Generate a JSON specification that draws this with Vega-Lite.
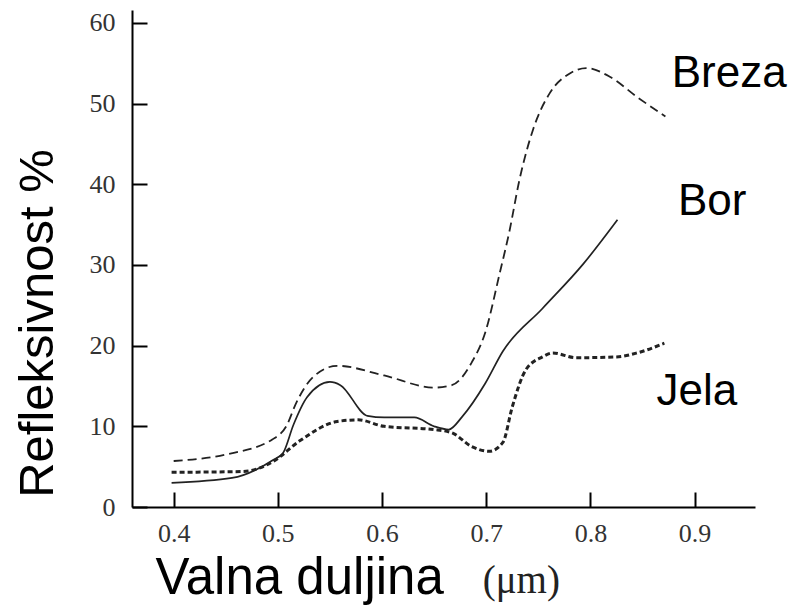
{
  "$schema": "https://vega.github.io/schema/vega-lite/v6.json",
  "autosize": {"type": "none"},
  "padding": {"left": 132, "top": 10, "right": 35, "bottom": 98},
  "width": 623,
  "height": 497,
  "background": "white",
  "config": {"view": {"stroke": null}},
  "datasets": {
    "curves": [
      {"series": "Breza", "wl": 0.400, "refl": 5.7},
      {"series": "Breza", "wl": 0.450, "refl": 6.5},
      {"series": "Breza", "wl": 0.495, "refl": 8.4},
      {"series": "Breza", "wl": 0.508, "refl": 10.0},
      {"series": "Breza", "wl": 0.518, "refl": 13.0},
      {"series": "Breza", "wl": 0.533, "refl": 16.0},
      {"series": "Breza", "wl": 0.557, "refl": 17.5},
      {"series": "Breza", "wl": 0.602, "refl": 16.3},
      {"series": "Breza", "wl": 0.650, "refl": 14.8},
      {"series": "Breza", "wl": 0.667, "refl": 15.1},
      {"series": "Breza", "wl": 0.686, "refl": 17.9},
      {"series": "Breza", "wl": 0.699, "refl": 21.6},
      {"series": "Breza", "wl": 0.713, "refl": 29.0},
      {"series": "Breza", "wl": 0.722, "refl": 34.0},
      {"series": "Breza", "wl": 0.732, "refl": 40.6},
      {"series": "Breza", "wl": 0.745, "refl": 46.8},
      {"series": "Breza", "wl": 0.761, "refl": 51.3},
      {"series": "Breza", "wl": 0.781, "refl": 53.8},
      {"series": "Breza", "wl": 0.796, "refl": 54.4},
      {"series": "Breza", "wl": 0.819, "refl": 53.3},
      {"series": "Breza", "wl": 0.845, "refl": 50.8},
      {"series": "Breza", "wl": 0.872, "refl": 48.4},
      {"series": "Bor", "wl": 0.398, "refl": 3.0},
      {"series": "Bor", "wl": 0.456, "refl": 3.6},
      {"series": "Bor", "wl": 0.495, "refl": 5.8},
      {"series": "Bor", "wl": 0.505, "refl": 6.7},
      {"series": "Bor", "wl": 0.515, "refl": 10.2},
      {"series": "Bor", "wl": 0.528, "refl": 13.6},
      {"series": "Bor", "wl": 0.550, "refl": 15.5},
      {"series": "Bor", "wl": 0.560, "refl": 15.1},
      {"series": "Bor", "wl": 0.586, "refl": 11.3},
      {"series": "Bor", "wl": 0.602, "refl": 11.1},
      {"series": "Bor", "wl": 0.631, "refl": 11.1},
      {"series": "Bor", "wl": 0.650, "refl": 10.0},
      {"series": "Bor", "wl": 0.664, "refl": 9.6},
      {"series": "Bor", "wl": 0.677, "refl": 11.2},
      {"series": "Bor", "wl": 0.699, "refl": 15.3},
      {"series": "Bor", "wl": 0.716, "refl": 19.3},
      {"series": "Bor", "wl": 0.754, "refl": 24.6},
      {"series": "Bor", "wl": 0.793, "refl": 30.1},
      {"series": "Bor", "wl": 0.826, "refl": 35.6},
      {"series": "Jela", "wl": 0.398, "refl": 4.3},
      {"series": "Jela", "wl": 0.466, "refl": 4.4},
      {"series": "Jela", "wl": 0.495, "refl": 5.6},
      {"series": "Jela", "wl": 0.521, "refl": 8.2},
      {"series": "Jela", "wl": 0.557, "refl": 10.6},
      {"series": "Jela", "wl": 0.577, "refl": 10.8},
      {"series": "Jela", "wl": 0.602, "refl": 10.0},
      {"series": "Jela", "wl": 0.650, "refl": 9.6},
      {"series": "Jela", "wl": 0.667, "refl": 9.2},
      {"series": "Jela", "wl": 0.686, "refl": 7.5},
      {"series": "Jela", "wl": 0.703, "refl": 6.9},
      {"series": "Jela", "wl": 0.716, "refl": 8.0},
      {"series": "Jela", "wl": 0.725, "refl": 12.4},
      {"series": "Jela", "wl": 0.738, "refl": 17.0},
      {"series": "Jela", "wl": 0.754, "refl": 18.6},
      {"series": "Jela", "wl": 0.764, "refl": 19.1},
      {"series": "Jela", "wl": 0.786, "refl": 18.5},
      {"series": "Jela", "wl": 0.825, "refl": 18.6},
      {"series": "Jela", "wl": 0.845, "refl": 19.1},
      {"series": "Jela", "wl": 0.871, "refl": 20.3}
    ],
    "names": [
      {"text": "Breza", "wl": 0.878, "refl": 52.0},
      {"text": "Bor", "wl": 0.884, "refl": 36.2},
      {"text": "Jela", "wl": 0.8635, "refl": 12.6}
    ],
    "unit": [
      {"text": "(μm)", "wl": 0.6966, "refl": -10.66}
    ]
  },
  "encoding": {
    "x": {
      "field": "wl", "type": "quantitative",
      "scale": {"domain": [0.36, 0.958], "nice": false, "zero": false},
      "axis": {
        "values": [0.4, 0.5, 0.6, 0.7, 0.8, 0.9],
        "format": ".1f",
        "title": "Valna duljina",
        "titleFont": "Liberation Sans", "titleFontSize": 51, "titleFontWeight": "normal", "titleColor": "black",
        "titleAlign": "left", "titleAnchor": "start", "titleBaseline": "alphabetic",
        "titleX": 23, "titleY": 86,
        "labelFont": "Liberation Serif", "labelFontSize": 26, "labelColor": "#333",
        "labelPadding": 28,
        "tickSize": -15, "tickWidth": 2, "tickColor": "black",
        "domainColor": "black", "domainWidth": 2,
        "grid": false
      }
    },
    "y": {
      "field": "refl", "type": "quantitative",
      "scale": {"domain": [0, 61.6], "nice": false},
      "axis": {
        "values": [0, 10, 20, 30, 40, 50, 60],
        "title": "Refleksivnost %",
        "titleFont": "Liberation Sans", "titleFontSize": 49, "titleFontWeight": "normal", "titleColor": "black",
        "titleAngle": 270, "titleAlign": "center", "titleBaseline": "alphabetic",
        "titleX": -80, "titleY": 313,
        "labelFont": "Liberation Serif", "labelFontSize": 26, "labelColor": "#333",
        "labelPadding": 32,
        "tickSize": -15, "tickWidth": 2, "tickColor": "black",
        "domainColor": "black", "domainWidth": 2,
        "grid": false
      }
    }
  },
  "layer": [
    {
      "data": {"name": "curves"},
      "transform": [{"filter": "datum.series === 'Breza'"}],
      "mark": {"type": "line", "interpolate": "monotone", "color": "#222", "strokeWidth": 1.8, "strokeDash": [9, 5]}
    },
    {
      "data": {"name": "curves"},
      "transform": [{"filter": "datum.series === 'Bor'"}],
      "mark": {"type": "line", "interpolate": "monotone", "color": "#222", "strokeWidth": 1.7}
    },
    {
      "data": {"name": "curves"},
      "transform": [{"filter": "datum.series === 'Jela'"}],
      "mark": {"type": "line", "interpolate": "monotone", "color": "#222", "strokeWidth": 3, "strokeDash": [5, 3]}
    },
    {
      "data": {"name": "names"},
      "mark": {"type": "text", "font": "Liberation Sans", "fontSize": 44, "align": "left", "baseline": "alphabetic", "color": "black", "clip": false},
      "encoding": {"text": {"field": "text"}}
    },
    {
      "data": {"name": "unit"},
      "mark": {"type": "text", "font": "Liberation Serif", "fontSize": 39, "align": "left", "baseline": "alphabetic", "color": "#222", "clip": false},
      "encoding": {"text": {"field": "text"}}
    }
  ]
}
